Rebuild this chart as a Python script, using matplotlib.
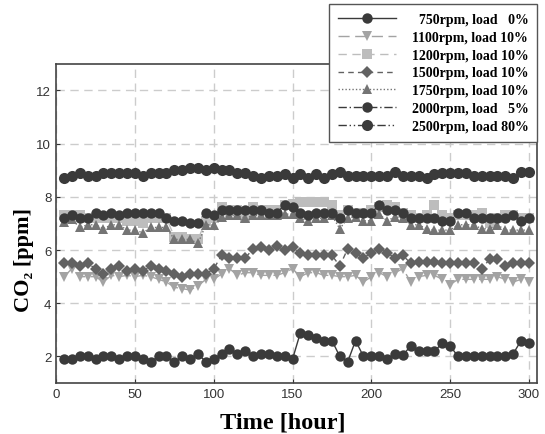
import matplotlib
matplotlib.use("Agg")
import matplotlib.pyplot as plt
import numpy as np

hours = list(range(5, 301, 5))

rpm750 = [1.9, 1.9, 2.0, 2.0, 1.9, 2.0, 2.0, 1.9, 2.0, 2.0, 1.9, 1.8, 2.0, 2.0, 1.8,
          2.0, 1.9, 2.1, 1.8, 1.9, 2.1, 2.3, 2.1, 2.2, 2.0, 2.1, 2.1, 2.0, 2.0, 1.9,
          2.9, 2.8, 2.7, 2.6, 2.6, 2.0, 1.8, 2.6, 2.0, 2.0, 2.0, 1.9, 2.1, 2.05, 2.4,
          2.2, 2.2, 2.2, 2.5, 2.4, 2.0, 2.0, 2.0, 2.0, 2.0, 2.0, 2.0, 2.1, 2.6, 2.5]

rpm1100 = [5.0, 5.3, 5.0, 5.0, 5.0, 4.8, 5.05, 5.0, 5.05, 5.0, 5.05, 5.0, 4.9, 4.8, 4.6,
           4.55, 4.5, 4.65, 4.9, 4.9, 5.1, 5.3, 5.05, 5.15, 5.15, 5.05, 5.05, 5.05, 5.15, 5.3,
           5.0, 5.15, 5.15, 5.05, 5.05, 5.0, 5.0, 5.05, 4.8, 5.0, 5.15, 5.0, 5.15, 5.3, 4.8,
           5.0, 5.05, 5.05, 4.9, 4.7, 4.9, 4.9, 4.9, 4.9, 4.9, 5.0, 4.9, 4.8, 4.9, 4.8]

rpm1200 = [7.3, 7.3, 7.3, 7.2, 7.2, 7.2, 7.2, 7.2, 7.1, 7.1, 7.0, 7.2, 7.2, 7.2, 6.5,
           6.5, 6.4, 6.4, 7.1, 7.2, 7.6, 7.5, 7.5, 7.2, 7.6, 7.5, 7.5, 7.5, 7.7, 7.75,
           7.8, 7.8, 7.8, 7.8, 7.7, 7.3, 7.5, 7.4, 7.4, 7.5, 7.6, 7.7, 7.6, 7.4, 7.3,
           7.2, 7.3, 7.7, 7.3, 7.2, 7.3, 7.3, 7.3, 7.4, 7.0, 7.2, 7.3, 7.3, 7.2, 7.2]

rpm1500 = [5.5, 5.5, 5.4, 5.5, 5.3, 5.1, 5.3, 5.4, 5.2, 5.3, 5.2, 5.4, 5.3, 5.2, 5.1,
           5.0, 5.1, 5.1, 5.1, 5.3, 5.8, 5.7, 5.7, 5.7, 6.05, 6.1, 6.0, 6.15, 6.0, 6.1,
           5.9, 5.8, 5.8, 5.8, 5.8, 5.4, 6.05, 5.9, 5.7, 5.9, 6.05, 5.9, 5.7, 5.8, 5.5,
           5.55, 5.55, 5.55, 5.5, 5.5, 5.5, 5.5, 5.5, 5.3, 5.65, 5.65, 5.4, 5.5, 5.5, 5.5]

rpm1750 = [7.05, 7.15, 6.85, 6.95, 6.95, 6.8, 6.95, 6.95, 6.75, 6.75, 6.65, 6.85, 6.85, 6.85, 6.4,
           6.4, 6.4, 6.25, 6.95, 6.95, 7.25, 7.3, 7.3, 7.2, 7.3, 7.3, 7.3, 7.3, 7.35, 7.35,
           7.2, 7.1, 7.2, 7.2, 7.3, 6.8, 7.2, 7.25, 7.1, 7.1, 7.35, 7.1, 7.25, 7.2, 6.95,
           6.95, 6.8, 6.75, 6.75, 6.75, 6.95, 6.95, 6.95, 6.8, 6.8, 6.95, 6.75, 6.75, 6.75, 6.75]

rpm2000 = [7.2, 7.3, 7.2, 7.2, 7.4, 7.3, 7.4, 7.3, 7.4, 7.4, 7.4, 7.4, 7.4, 7.2, 7.1,
           7.1, 7.0, 7.0, 7.4, 7.3, 7.5, 7.5, 7.5, 7.5, 7.5, 7.5, 7.4, 7.4, 7.7, 7.6,
           7.4, 7.3, 7.4, 7.4, 7.4, 7.2, 7.5, 7.4, 7.4, 7.4, 7.7, 7.5, 7.5, 7.4, 7.2,
           7.2, 7.2, 7.2, 7.1, 7.1, 7.4, 7.4, 7.2, 7.2, 7.2, 7.2, 7.2, 7.3, 7.1, 7.2]

rpm2500 = [8.7, 8.8, 8.9, 8.8, 8.8, 8.9, 8.9, 8.9, 8.9, 8.9, 8.8, 8.9, 8.9, 8.9, 9.0,
           9.0, 9.1, 9.1, 9.0, 9.1, 9.0, 9.0, 8.9, 8.9, 8.8, 8.7, 8.8, 8.8, 8.85, 8.7,
           8.85, 8.7, 8.85, 8.7, 8.85, 8.95, 8.8, 8.8, 8.8, 8.8, 8.8, 8.8, 8.95, 8.8, 8.8,
           8.8, 8.7, 8.85, 8.9, 8.9, 8.9, 8.9, 8.8, 8.8, 8.8, 8.8, 8.8, 8.7, 8.95, 8.95]

labels = ["\u2007750rpm, load \u20070%",
          "1100rpm, load 10%",
          "1200rpm, load 10%",
          "1500rpm, load 10%",
          "1750rpm, load 10%",
          "2000rpm, load \u20075%",
          "2500rpm, load 80%"]

series = [rpm750, rpm1100, rpm1200, rpm1500, rpm1750, rpm2000, rpm2500]
colors = ["#3a3a3a", "#a3a3a3", "#bdbdbd", "#626262", "#747474", "#3a3a3a", "#3a3a3a"]
markers = ["o", "v", "s", "D", "^", "o", "o"]
msizes = [7.5, 7.5, 7, 6.5, 7.5, 7.5, 8]
styles = ["-", (0, (8, 4)), (0, (6, 4)), (0, (4, 3)), (0, (1, 1.5)), (0, (6, 2, 1, 2)),
          (0, (6, 2, 1, 2, 1, 2))]

fig = plt.figure(figsize=(5.45, 4.35), dpi=100)
ax = fig.add_axes([0.103, 0.117, 0.882, 0.734])

for vals, lab, c, m, ms, ls in zip(series, labels, colors, markers, msizes, styles):
    ax.plot(hours, vals, color=c, marker=m, markersize=ms, linestyle=ls,
            linewidth=1.0, label=lab, markeredgewidth=0)

ax.set_xlim(0, 305)
ax.set_ylim(1, 13)
ax.set_xticks([0, 50, 100, 150, 200, 250, 300])
ax.set_yticks([2, 4, 6, 8, 10, 12])
ax.grid(True, color="#cccccc", linestyle=(0, (6, 4)), linewidth=1.0)
ax.set_axisbelow(True)
ax.tick_params(direction="in", length=3, labelsize=9.5, colors="#333333")
for lbl in ax.get_xticklabels() + ax.get_yticklabels():
    lbl.set_family(["Liberation Sans", "DejaVu Sans"])
for s in ax.spines.values():
    s.set_color("#444444")
    s.set_linewidth(1.2)

ax.set_xlabel("Time [hour]", fontsize=17.5, fontweight="bold",
              family=["Liberation Serif", "DejaVu Serif"])
ax.set_ylabel("CO\u2082 [ppm]", fontsize=16, fontweight="bold",
              family=["Liberation Serif", "DejaVu Serif"])
ax.xaxis.set_label_coords(0.472, -0.09)
ax.yaxis.set_label_coords(-0.047, 0.39)

leg = fig.legend(loc="upper right", bbox_to_anchor=(0.986, 0.988),
                 prop={"family": ["Liberation Serif", "DejaVu Serif"], "weight": "bold", "size": 10},
                 handlelength=4.2, labelspacing=0.34, handletextpad=1.1,
                 fancybox=False, framealpha=1, edgecolor="#555555",
                 borderpad=0.65, borderaxespad=0)
leg.get_frame().set_linewidth(1.0)

fig.savefig("out.png", dpi=100)
